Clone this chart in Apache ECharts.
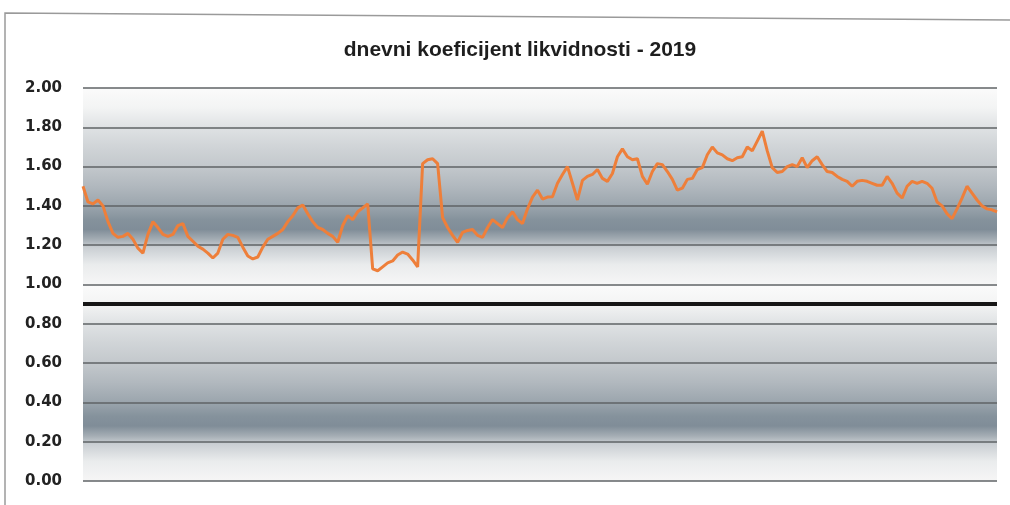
<!DOCTYPE html>
<html>
<head>
<meta charset="utf-8">
<script src="https://cdn.jsdelivr.net/npm/echarts@6/dist/echarts.min.js"></script>
<style>
  html, body { margin: 0; padding: 0; background: #ffffff; }
  #chart { width: 1010px; height: 505px; }
</style>
</head>
<body>
<div id="chart"></div>
<script>
// dnevni koeficijent likvidnosti (left to right)
const coefValues = [
  1.50, 1.42, 1.41, 1.43, 1.40, 1.32, 1.26, 1.24, 1.245, 1.26, 1.23, 1.185, 1.16, 1.255, 1.32,
  1.29, 1.255, 1.245, 1.255, 1.30, 1.31, 1.245, 1.22, 1.195, 1.18, 1.16, 1.135, 1.16, 1.23, 1.255, 1.25,
  1.24, 1.19, 1.145, 1.13, 1.14, 1.19, 1.23, 1.245, 1.26, 1.28, 1.32, 1.35, 1.39, 1.405, 1.36, 1.32,
  1.29, 1.28, 1.26, 1.245, 1.215, 1.30, 1.35, 1.33, 1.37, 1.39, 1.41, 1.08, 1.07, 1.09, 1.11,
  1.12, 1.15, 1.165, 1.155, 1.125, 1.09, 1.615, 1.635, 1.64, 1.615, 1.34, 1.29, 1.25, 1.215, 1.265, 1.275, 1.28,
  1.25, 1.24, 1.29, 1.33, 1.31, 1.29, 1.34, 1.37, 1.33, 1.31, 1.385, 1.445, 1.48, 1.435, 1.445,
  1.447, 1.515, 1.56, 1.60, 1.515, 1.43, 1.53, 1.55, 1.56, 1.585, 1.54, 1.525, 1.565, 1.65,
  1.69, 1.65, 1.635, 1.64, 1.55, 1.51, 1.575, 1.615, 1.61, 1.575, 1.535, 1.48, 1.49, 1.535, 1.54, 1.585,
  1.595, 1.66, 1.70, 1.67, 1.66, 1.64, 1.63, 1.645, 1.65, 1.70, 1.68, 1.73, 1.78, 1.68,
  1.595, 1.57, 1.575, 1.60, 1.61, 1.60, 1.645, 1.595, 1.63, 1.65, 1.61, 1.575, 1.57, 1.55,
  1.535, 1.525, 1.50,
  1.525, 1.53, 1.525, 1.515, 1.505, 1.505, 1.55, 1.515, 1.465, 1.44, 1.50, 1.525, 1.515, 1.525,
  1.515, 1.49, 1.42, 1.40, 1.36, 1.335, 1.385, 1.44, 1.50, 1.465, 1.43, 1.40, 1.385, 1.38, 1.37
];
const dayLabels = coefValues.map((v, i) => String(i + 1));
const thresholdValue = 0.9;
const yTicks = { min: 0, max: 2, step: 0.2 };
// the shaded background repeats once per unit of the axis
const shadeBands = [[1, 2], [0, 1]];

const bandGradient = {
  type: 'linear', x: 0, y: 0, x2: 0, y2: 1,
  colorStops: [
    { offset: 0, color: '#fbfbfb' },
    { offset: 0.1, color: '#f3f4f4' },
    { offset: 0.2, color: '#dfe2e4' },
    { offset: 0.3, color: '#d0d4d7' },
    { offset: 0.4, color: '#c3c8cc' },
    { offset: 0.5, color: '#b1b8be' },
    { offset: 0.6, color: '#9ba5ad' },
    { offset: 0.67, color: '#85929c' },
    { offset: 0.72, color: '#808d98' },
    { offset: 0.77, color: '#a4adb4' },
    { offset: 0.81, color: '#c9ced2' },
    { offset: 0.9, color: '#eaeced' },
    { offset: 1, color: '#f6f6f6' }
  ]
};

const chart = echarts.init(document.getElementById('chart'));

const option = {
  animation: false,
  backgroundColor: '#ffffff',
  title: {
    text: 'dnevni koeficijent likvidnosti - 2019',
    left: 515,
    top: 35,
    textAlign: 'center',
    textStyle: {
      fontFamily: 'Liberation Sans',
      fontWeight: 'bold',
      fontSize: 21,
      color: '#1e1e1e'
    }
  },
  graphic: [{
    type: 'polyline',
    shape: { points: [[5, 505], [5, 13], [1010, 20]] },
    style: { stroke: '#9a9a9a', lineWidth: 1.5, fill: null },
    silent: true
  }],
  grid: {
    left: 83,
    right: 13,
    top: 88,
    bottom: 24
  },
  xAxis: {
    type: 'category',
    data: dayLabels,
    boundaryGap: false,
    axisLine: { show: false },
    axisTick: { show: false },
    axisLabel: { show: false },
    splitLine: { show: false }
  },
  yAxis: {
    type: 'value',
    z: 1,
    min: yTicks.min,
    max: yTicks.max,
    interval: yTicks.step,
    axisLine: { show: false },
    axisTick: { show: false },
    axisLabel: {
      margin: 21,
      fontFamily: 'DejaVu Sans',
      fontWeight: 'bold',
      fontSize: 15,
      color: '#222222',
      formatter: v => v.toFixed(2)
    },
    splitLine: {
      lineStyle: { color: '#5f6366', width: 1.5 }
    }
  },
  series: [
    {
      name: 'pozadina',
      type: 'line',
      data: [],
      silent: true,
      z: -1,
      markArea: {
        z: -5,
        silent: true,
        itemStyle: { color: bandGradient },
        data: shadeBands.map(b => [{ yAxis: b[1] }, { yAxis: b[0] }])
      }
    },
    {
      name: 'koeficijent',
      type: 'line',
      data: coefValues,
      showSymbol: false,
      symbol: 'none',
      z: 3,
      lineStyle: { color: '#ee7f3a', width: 3 },
      markLine: {
        silent: true,
        symbol: 'none',
        label: { show: false },
        lineStyle: { color: '#161616', width: 4, type: 'solid' },
        data: [{ yAxis: thresholdValue }]
      }
    }
  ]
};

chart.setOption(option);
</script>
</body>
</html>
